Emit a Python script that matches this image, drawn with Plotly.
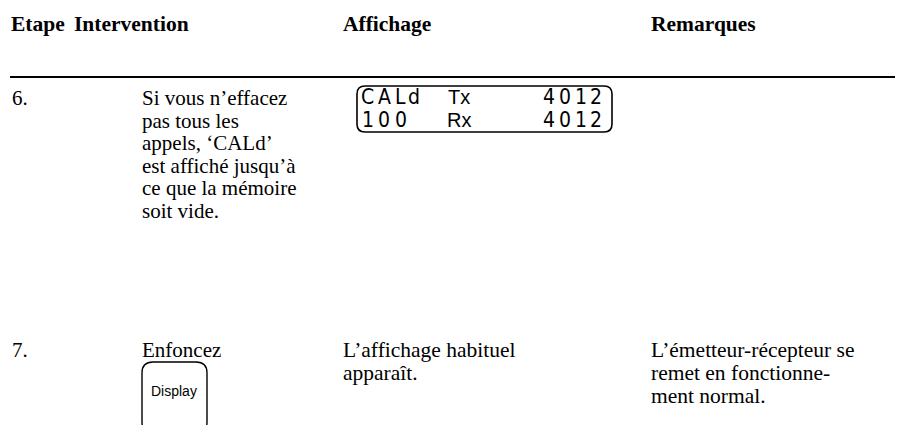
import plotly.graph_objects as go

# ---- content ----
headers = ["Etape", "Intervention", "Affichage", "Remarques"]

step6 = "6."
step6_intervention = ["Si vous n’effacez", "pas tous les", "appels, ‘CALd’",
                      "est affiché jusqu’à", "ce que la mémoire", "soit vide."]
lcd_row1 = ["C", "A", "L", "d", "Tx", "4", "0", "1", "2"]
lcd_row2 = ["1", "0", "0", "Rx", "4", "0", "1", "2"]

step7 = "7."
step7_intervention = ["Enfoncez"]
step7_button = "Display"
step7_affichage = ["L’affichage habituel", "apparaît."]
step7_remarques = ["L’émetteur-récepteur se", "remet en fonctionne-", "ment normal."]

# ---- layout constants ----
W, H = 903, 425
head_x = [2, 65, 334, 642]
body_x = [3, 133, 334, 642]
serif = "Liberation Serif, Times New Roman, serif"
sans = "Liberation Sans, Arial, sans-serif"
lcd_font = "DejaVu Sans Condensed, Liberation Sans Narrow, Liberation Sans, sans-serif"
fs_head = 21.5
fs_left = 21
fs_right = 21.5
line_h = 22.5
line_h7 = 23

ann = []

def add_text(x, ymid, text, size, family=serif, anchor="left", weight=None):
    f = dict(family=family, size=size, color="black")
    if weight is not None:
        f["weight"] = weight
    ann.append(dict(x=x, y=ymid, xref="x", yref="y", text=text,
                    showarrow=False, xanchor=anchor, yanchor="middle",
                    font=f, borderpad=0))

# header
for cx, h in zip(head_x, headers):
    add_text(cx, 16, "<b>" + h + "</b>", fs_head)

# row 6
r6 = 90
add_text(body_x[0], r6, step6, fs_left)
for i, t in enumerate(step6_intervention):
    add_text(body_x[1], r6 + i * line_h, t, fs_left)

# LCD characters
row1_cx = [359, 376, 392, 406, 451, 541, 557, 573, 588]
row2_cx = [360, 376, 393, 451, 541, 557, 573, 588]
for cx, ch in zip(row1_cx, lcd_row1):
    if ch in ("Tx", "Rx"):
        add_text(cx, 89, ch, 20, family=sans, anchor="center")
    else:
        add_text(cx, 89, ch, 21, family=lcd_font, anchor="center", weight=300)
for cx, ch in zip(row2_cx, lcd_row2):
    if ch in ("Tx", "Rx"):
        add_text(cx, 112, ch, 20, family=sans, anchor="center")
    else:
        add_text(cx, 112, ch, 21, family=lcd_font, anchor="center", weight=300)

# row 7
r7 = 342
add_text(body_x[0], r7, step7, fs_left)
for i, t in enumerate(step7_intervention):
    add_text(body_x[1], r7 + i * line_h7, t, fs_left)
for i, t in enumerate(step7_affichage):
    add_text(body_x[2], r7 + i * line_h7, t, fs_right)
for i, t in enumerate(step7_remarques):
    add_text(body_x[3], r7 + i * line_h7, t, fs_right)
add_text(166, 383, step7_button, 14, family=sans, anchor="center")

# shapes
def rrect(x0, y0, x1, y1, r):
    return (f"M {x0+r},{y0} L {x1-r},{y0} Q {x1},{y0} {x1},{y0+r} "
            f"L {x1},{y1-r} Q {x1},{y1} {x1-r},{y1} L {x0+r},{y1} "
            f"Q {x0},{y1} {x0},{y1-r} L {x0},{y0+r} Q {x0},{y0} {x0+r},{y0} Z")

shapes = [
    dict(type="line", x0=2, x1=903, y0=69, y1=69, xref="x", yref="y",
         line=dict(color="black", width=2)),
    dict(type="path", path=rrect(349, 78, 604, 124, 8), xref="x", yref="y",
         line=dict(color="black", width=1.6)),
    dict(type="path", xref="x", yref="y", line=dict(color="black", width=1.4),
         path="M 137,425 Q 134,421 134,414 L 134,365 Q 134,354 145,354 "
              "L 188,354 Q 199,354 199,365 L 199,414 Q 199,421 196,425"),
]

fig = go.Figure()
fig.update_layout(
    width=W, height=H, margin=dict(l=0, r=0, t=0, b=0),
    paper_bgcolor="white", plot_bgcolor="white",
    xaxis=dict(range=[0, W], visible=False, fixedrange=True),
    yaxis=dict(range=[H, 0], visible=False, fixedrange=True),
    annotations=ann, shapes=shapes, showlegend=False,
)
fig.write_html("out.html")
